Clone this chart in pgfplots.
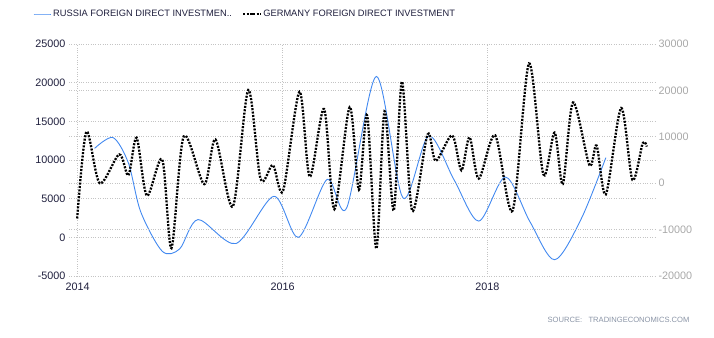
\documentclass[border=0pt]{standalone}
\usepackage{pgfplots}
\pgfplotsset{compat=1.18}
\usepackage{fontspec}
\setmainfont{Liberation Sans}
\definecolor{rublue}{HTML}{4289F0}
\definecolor{tickc}{HTML}{1E1E3C}
\definecolor{rtick}{HTML}{A8A8A8}
\definecolor{gridc}{HTML}{C4C4C4}
\definecolor{srcc}{HTML}{8A94A6}
\begin{document}
\begin{tikzpicture}
\path[use as bounding box] (-69pt,-61pt) rectangle (645pt,276pt);
\pgfplotsset{
 base/.style={
  at={(0pt,0pt)}, anchor=south west, scale only axis, width=586pt, height=232pt,
  xmin=2013.92, xmax=2019.64,
  axis line style={draw=none}, major tick length=0pt,
  tick label style={font=\fontsize{10.8}{12}\selectfont},
  /pgf/number format/assume math mode=true,
  /pgf/number format/1000 sep={},
  scaled y ticks=false, scaled x ticks=false,
  grid style={gridc, dotted, line width=0.8pt},
 }
}
\begin{axis}[base,
  ymin=-5000, ymax=25000, ytick={-5000,0,5000,10000,15000,20000,25000},
  xtick={2014,2016,2018}, xticklabels={2014,2016,2018},
  ymajorgrids, xmajorgrids,
  yticklabel style={text=tickc}, xticklabel style={text=tickc, yshift=-3pt, xshift=0.5pt},
  legend style={draw=none, fill=none, font=\fontsize{9.3}{11}\selectfont, text=tickc,
    at={(-0.0614,1.1293)}, anchor=west, inner xsep=0pt,
    /tikz/every even column/.append style={column sep=8pt}},
  legend columns=2, legend cell align=left]
\addplot[rublue, line width=0.9pt, smooth] coordinates {
(2014.17,11500) (2014.35,12900) (2014.50,9600) (2014.62,3300) (2014.83,-1800)
(2015.00,-1500) (2015.18,2300) (2015.55,-800) (2015.92,5300) (2016.16,0)
(2016.44,7500) (2016.63,3800) (2016.92,20800) (2017.18,5100) (2017.43,13100)
(2017.68,7400) (2017.92,2100) (2018.18,7800) (2018.42,2000) (2018.66,-2900)
(2018.92,2400) (2019.16,10300)
};
\addlegendentry{RUSSIA FOREIGN DIRECT INVESTMEN..}
\addlegendimage{black, line width=2.3pt, dash pattern=on 2pt off 1.4pt}
\addlegendentry{GERMANY FOREIGN DIRECT INVESTMENT}
\end{axis}
\begin{axis}[base,
  ymin=-20000, ymax=30000, ytick={-20000,-10000,0,10000,20000,30000},
  xtick=\empty, ymajorgrids, yticklabel pos=right,
  yticklabel style={text=rtick}]
\addplot[black, line width=2.3pt, dash pattern=on 2pt off 1.4pt, smooth] coordinates {
(2014.00,-7600) (2014.09,11100) (2014.22,0) (2014.41,6200) (2014.50,1700)
(2014.58,9800) (2014.68,-2700) (2014.83,5100) (2014.92,-14000) (2015.04,10100)
(2015.24,-200) (2015.35,9400) (2015.52,-5000) (2015.67,20100) (2015.79,900)
(2015.91,3900) (2016.01,-1600) (2016.17,19700) (2016.27,1400) (2016.41,16000)
(2016.51,-5600) (2016.66,16400) (2016.75,-1400) (2016.83,14600) (2016.92,-14100)
(2017.00,15500) (2017.09,-5900) (2017.17,21900) (2017.27,-5900) (2017.42,10500)
(2017.50,4800) (2017.66,10300) (2017.75,2800) (2017.83,9900) (2017.92,1000)
(2018.08,10300) (2018.25,-5900) (2018.41,25800) (2018.55,1900) (2018.66,10900)
(2018.74,-200) (2018.84,17400) (2019.00,3900) (2019.07,8100) (2019.16,-2400)
(2019.31,16200) (2019.42,700) (2019.52,8600) (2019.56,7900)
};
\end{axis}
\node[anchor=east, text=srcc, font=\fontsize{7.6}{9}\selectfont] at (624pt,-44pt) {SOURCE:\ \ \ TRADINGECONOMICS.COM};
\end{tikzpicture}
\end{document}
